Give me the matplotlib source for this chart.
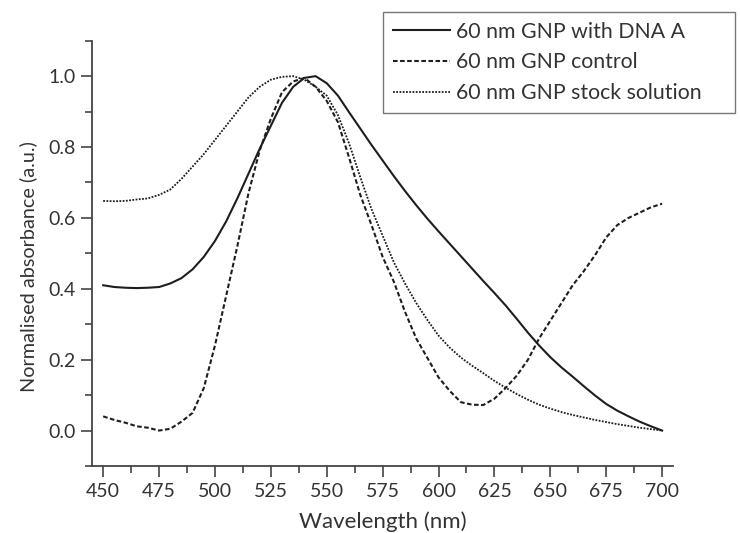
"""
Normalised UV-vis absorbance of 60 nm GNP samples.  Run: python plot.py
Saves figure to out.png.
"""

import matplotlib
matplotlib.use("Agg")
import matplotlib.pyplot as plt
from matplotlib.ticker import MultipleLocator, FormatStrFormatter

# wavelength grid (nm)
wavelength = [450, 455, 460, 465, 470, 475, 480, 485, 490, 495,
              500, 505, 510, 515, 520, 525, 530, 535, 540, 545,
              550, 555, 560, 565, 570, 575, 580, 585, 590, 595,
              600, 605, 610, 615, 620, 625, 630, 635, 640, 645,
              650, 655, 660, 665, 670, 675, 680, 685, 690, 695, 700]

# 60 nm GNP with DNA A (solid)
dna_a = [0.410, 0.405, 0.403, 0.402, 0.403, 0.405, 0.415, 0.430, 0.455, 0.490,
         0.535, 0.590, 0.655, 0.725, 0.795, 0.860, 0.925, 0.970, 0.995, 1.000,
         0.980, 0.945, 0.898, 0.852, 0.806, 0.762, 0.718, 0.676, 0.636, 0.598,
         0.562, 0.527, 0.492, 0.457, 0.422, 0.388, 0.353, 0.315, 0.276, 0.240,
         0.207, 0.178, 0.152, 0.125, 0.099, 0.075, 0.056, 0.040, 0.025, 0.012, 0.000]

# 60 nm GNP control (dashed)
control = [0.040, 0.030, 0.022, 0.012, 0.008, 0.000, 0.005, 0.025, 0.050, 0.120,
           0.240, 0.380, 0.520, 0.670, 0.790, 0.880, 0.955, 0.985, 0.995, 0.970,
           0.930, 0.870, 0.770, 0.665, 0.580, 0.490, 0.420, 0.335, 0.260, 0.205,
           0.150, 0.112, 0.080, 0.073, 0.072, 0.090, 0.120, 0.155, 0.200, 0.260,
           0.310, 0.360, 0.410, 0.450, 0.495, 0.545, 0.580, 0.600, 0.615, 0.630, 0.640]

# 60 nm GNP stock solution (dotted)
stock = [0.648, 0.647, 0.648, 0.652, 0.655, 0.665, 0.680, 0.710, 0.745, 0.780,
         0.820, 0.860, 0.900, 0.940, 0.970, 0.990, 0.998, 1.000, 0.990, 0.970,
         0.945, 0.890, 0.810, 0.715, 0.625, 0.550, 0.475, 0.415, 0.360, 0.312,
         0.268, 0.234, 0.206, 0.183, 0.162, 0.140, 0.121, 0.103, 0.087, 0.073,
         0.062, 0.052, 0.044, 0.037, 0.030, 0.024, 0.018, 0.013, 0.008, 0.004, 0.000]

labels = ["60 nm GNP with DNA A", "60 nm GNP control", "60 nm GNP stock solution"]

plt.rcParams["font.family"] = ["Lato", "DejaVu Sans"]
text_col = "#333333"
line_col = "#1e1e1e"
W, H = 740, 533

fig = plt.figure(figsize=(7.40, 5.33), dpi=100)
ax = fig.add_axes([92 / W, 1 - 466 / H, (673.3 - 92) / W, (466 - 40.7) / H])

ax.plot(wavelength, dna_a, color=line_col, lw=1.5, ls="-", label=labels[0])
ax.plot(wavelength, control, color=line_col, lw=1.5, ls=(0, (2.2, 1.2)), label=labels[1])
ax.plot(wavelength, stock, color=line_col, lw=1.3, ls=(0, (1, 0.8)), label=labels[2])

ax.set_xlim(445, 705)
ax.set_ylim(-0.1, 1.1)
ax.xaxis.set_major_locator(MultipleLocator(25))
ax.xaxis.set_minor_locator(MultipleLocator(12.5))
ax.yaxis.set_major_locator(MultipleLocator(0.2))
ax.yaxis.set_minor_locator(MultipleLocator(0.1))
ax.yaxis.set_major_formatter(FormatStrFormatter("%.1f"))

for side in ("top", "right"):
    ax.spines[side].set_visible(False)
for side in ("left", "bottom"):
    ax.spines[side].set_color("#444444")
    ax.spines[side].set_linewidth(1.3)

ax.tick_params(which="major", length=8, width=1.2, color="#444444",
               labelsize=14, labelcolor=text_col, pad=4)
ax.tick_params(which="minor", length=5, width=1.2, color="#444444")

ax.set_xlabel("Wavelength (nm)", fontsize=16, color=text_col)
ax.xaxis.set_label_coords(0.5, -(522 - 466) / (466 - 40.7), transform=ax.transAxes)
ax.xaxis.label.set_va("center")
ax.set_ylabel("Normalised absorbance (a.u.)", fontsize=14.3, color=text_col)
ax.yaxis.set_label_coords(-(92 - 28) / (673.3 - 92), (466 - 267) / (466 - 40.7),
                          transform=ax.transAxes)
ax.yaxis.label.set_va("center")

leg = fig.legend(loc="upper left",
                 bbox_to_anchor=(383 / W, 1 - 12.7 / H, 352 / W, 0.001),
                 mode="expand", fontsize=15.3, frameon=True, fancybox=False,
                 borderaxespad=0, handlelength=2.7, handletextpad=0.28,
                 labelspacing=0.5, borderpad=0.45)
leg.get_frame().set_edgecolor("#555555")
leg.get_frame().set_linewidth(1.0)
for t in leg.get_texts():
    t.set_color(text_col)

fig.savefig("out.png", dpi=100)
